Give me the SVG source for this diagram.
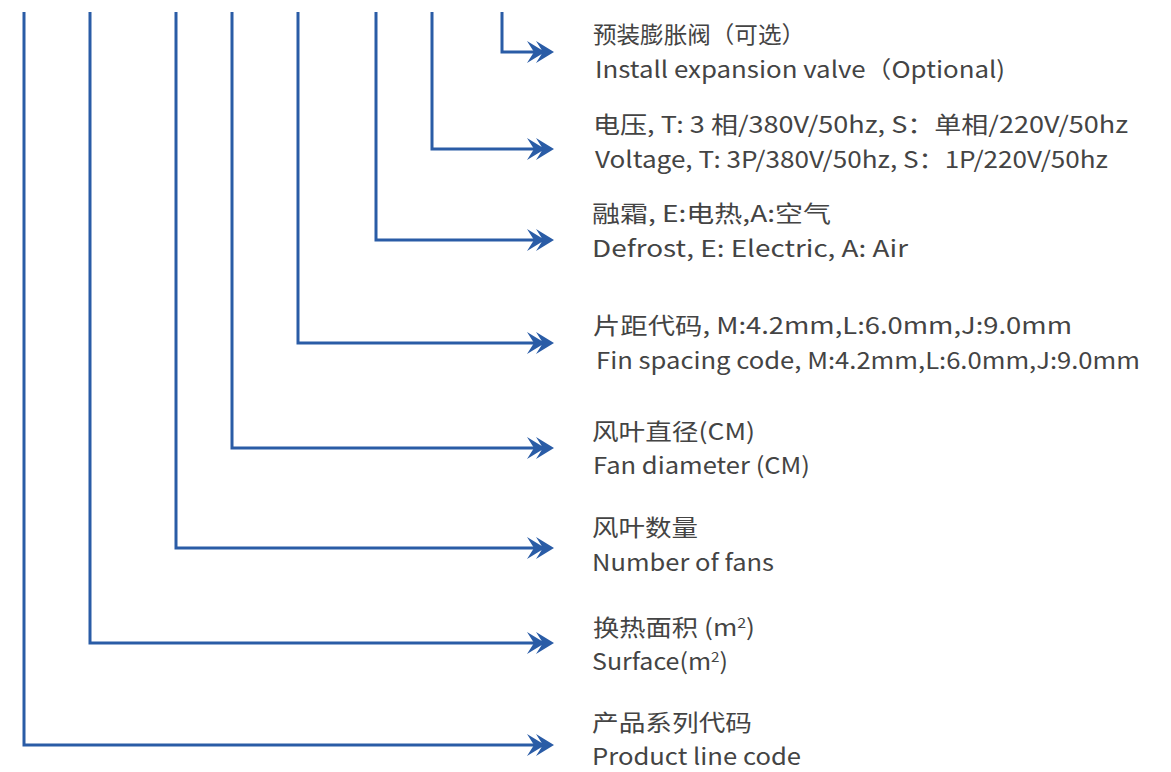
<svg xmlns="http://www.w3.org/2000/svg" xmlns:xlink="http://www.w3.org/1999/xlink" width="1171" height="772" viewBox="0 0 1171 772">
<style>
.ln{fill:none;stroke:#2a5ca6;stroke-width:3;stroke-linejoin:miter}
.ah{fill:#2a5ca6}
.t{font-family:"Noto Sans CJK SC","Noto Sans",sans-serif;font-size:23px;fill:#444}
</style>
<defs>
<path id="arr" class="ah" d="M0,0 L-18,-11 L-11,0 L-18,11 Z M-9,0 L-27,-11 L-20,0 L-27,11 Z"/>
</defs>
<rect width="1171" height="772" fill="#fff"/>
<g id="connectors">
<polyline class="ln" points="502,12 502,52 548,52"/>
<use xlink:href="#arr" x="554" y="52"/>
<polyline class="ln" points="432,12 432,149 548,149"/>
<use xlink:href="#arr" x="554" y="149"/>
<polyline class="ln" points="376,12 376,240 548,240"/>
<use xlink:href="#arr" x="554" y="240"/>
<polyline class="ln" points="298,12 298,343 548,343"/>
<use xlink:href="#arr" x="554" y="343"/>
<polyline class="ln" points="232,12 232,448 548,448"/>
<use xlink:href="#arr" x="554" y="448"/>
<polyline class="ln" points="176,12 176,548 548,548"/>
<use xlink:href="#arr" x="554" y="548"/>
<polyline class="ln" points="90,12 90,643 548,643"/>
<use xlink:href="#arr" x="554" y="643"/>
<polyline class="ln" points="24,12 24,745 548,745"/>
<use xlink:href="#arr" x="554" y="745"/>
</g>
<g id="n-valve"><text class="t" x="593" y="43" textLength="212" lengthAdjust="spacingAndGlyphs">预装膨胀阀（可选）</text><text class="t" x="595" y="78" textLength="410" lengthAdjust="spacingAndGlyphs">Install expansion valve（Optional)</text></g>
<g id="n-voltage"><text class="t" x="593" y="133" textLength="535" lengthAdjust="spacingAndGlyphs">电压, T: 3 相/380V/50hz, S：单相/220V/50hz</text><text class="t" x="595" y="168" textLength="513" lengthAdjust="spacingAndGlyphs">Voltage, T: 3P/380V/50hz, S：1P/220V/50hz</text></g>
<g id="n-defrost"><text class="t" x="592" y="222" textLength="239" lengthAdjust="spacingAndGlyphs">融霜, E:电热,A:空气</text><text class="t" x="592" y="257" textLength="316" lengthAdjust="spacingAndGlyphs">Defrost, E: Electric, A: Air</text></g>
<g id="n-fin"><text class="t" x="593" y="334" textLength="479" lengthAdjust="spacingAndGlyphs">片距代码, M:4.2mm,L:6.0mm,J:9.0mm</text><text class="t" x="596" y="369" textLength="544" lengthAdjust="spacingAndGlyphs">Fin spacing code, M:4.2mm,L:6.0mm,J:9.0mm</text></g>
<g id="n-diameter"><text class="t" x="592" y="440" textLength="163" lengthAdjust="spacingAndGlyphs">风叶直径(CM)</text><text class="t" x="593" y="474" textLength="217" lengthAdjust="spacingAndGlyphs">Fan diameter (CM)</text></g>
<g id="n-fans"><text class="t" x="592" y="536" textLength="106" lengthAdjust="spacingAndGlyphs">风叶数量</text><text class="t" x="592" y="571" textLength="182" lengthAdjust="spacingAndGlyphs">Number of fans</text></g>
<g id="n-surface"><text class="t" x="593" y="636" textLength="162" lengthAdjust="spacingAndGlyphs">换热面积 (m<tspan font-size="14" dy="-8">2</tspan><tspan dy="8">)</tspan></text><text class="t" x="592" y="670" textLength="136" lengthAdjust="spacingAndGlyphs">Surface(m<tspan font-size="14" dy="-8">2</tspan><tspan dy="8">)</tspan></text></g>
<g id="n-product"><text class="t" x="592" y="731" textLength="160" lengthAdjust="spacingAndGlyphs">产品系列代码</text><text class="t" x="592" y="765" textLength="209" lengthAdjust="spacingAndGlyphs">Product line code</text></g>
</svg>
